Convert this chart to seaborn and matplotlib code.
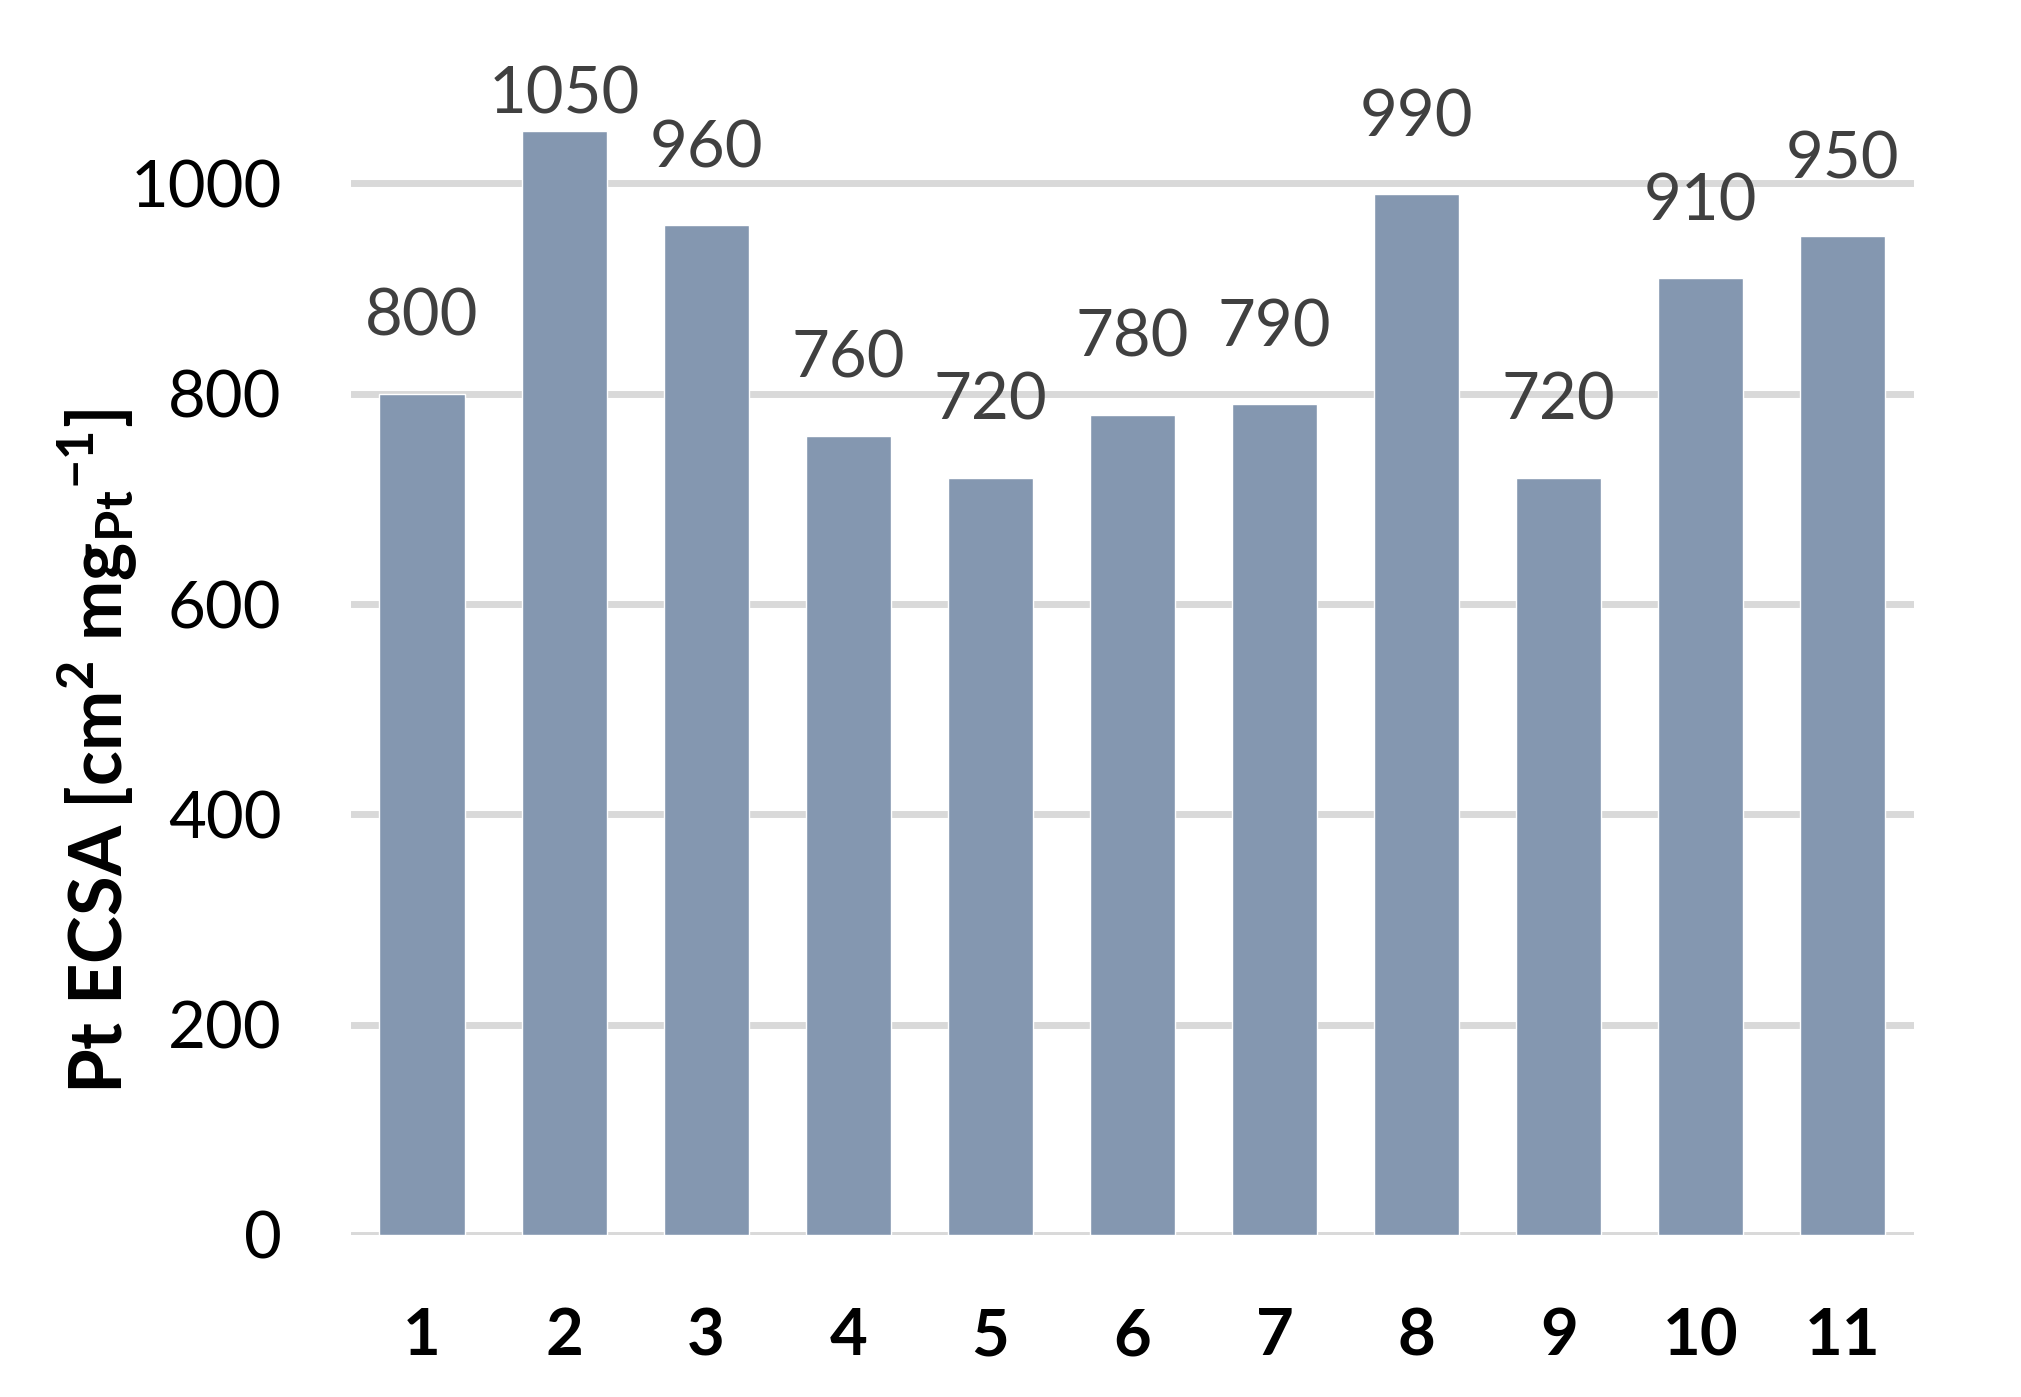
import numpy as np
import pandas as pd
import matplotlib
matplotlib.use("Agg")
import matplotlib.pyplot as plt
import seaborn as sns

# Data
samples = ["1", "2", "3", "4", "5", "6", "7", "8", "9", "10", "11"]
ecsa = [800, 1050, 960, 760, 720, 780, 790, 990, 720, 910, 950]
yticks = [0, 200, 400, 600, 800, 1000]

sns.set_theme(style="white")
plt.rcParams["font.family"] = ["Lato", "DejaVu Sans"]
plt.rcParams["mathtext.fontset"] = "custom"
plt.rcParams["mathtext.rm"] = "Lato"
plt.rcParams["mathtext.bf"] = "Lato:bold"

df = pd.DataFrame({"sample": samples, "ecsa": ecsa})

fig = plt.figure(figsize=(20.21, 13.97), dpi=100)
ax = fig.add_axes([0.1737, 0.116, 0.7733, 0.828])

sns.barplot(data=df, x="sample", y="ecsa", color="#8497b0", saturation=1,
            width=0.6, ax=ax, zorder=3)

ax.set_ylim(0, 1100)
ax.set_yticks(yticks)
ax.yaxis.grid(True, color="#d9d9d9", linewidth=5)
ax.set_axisbelow(True)
for s in ax.spines.values():
    s.set_visible(False)
ax.tick_params(axis="both", length=0)
ax.tick_params(axis="y", labelsize=47, pad=50, labelcolor="#000000")
ax.tick_params(axis="x", labelsize=47, pad=52, labelcolor="#000000")
for t in ax.get_xticklabels():
    t.set_fontweight("bold")

# value labels above bars (Excel clamps the tallest one under the plot top)
for i, v in enumerate(ecsa):
    ax.text(i, min(v + 55, 1066), str(v), ha="center", va="baseline",
            fontsize=47, color="#404040")

ax.set_xlabel("")
ax.set_ylabel(r"Pt ECSA [cm$^{\mathbf{2}}$ mg$_{\mathbf{Pt}}$$^{\mathbf{-1}}$]",
              fontsize=52, fontweight="bold", color="#000000", va="center")
ax.yaxis.set_label_coords(-0.1625, 0.418)

fig.savefig("out.png", dpi=100)
